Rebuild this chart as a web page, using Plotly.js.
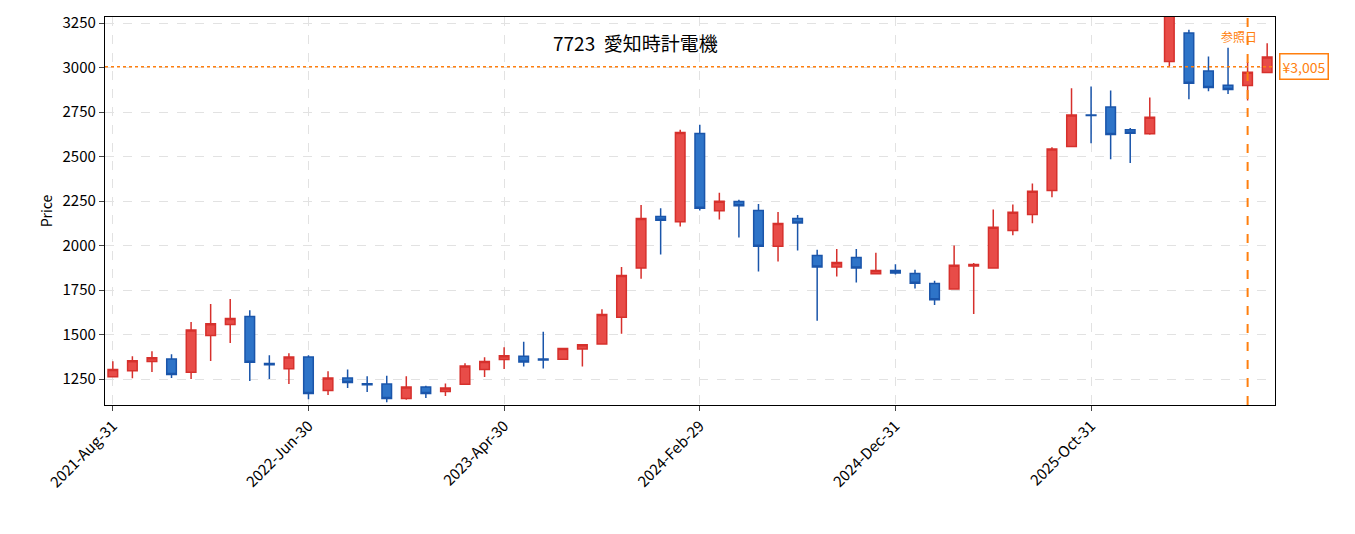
<!DOCTYPE html>
<html>
<head>
<meta charset="utf-8">
<script src="https://cdn.plot.ly/plotly-3.0.1.min.js"></script>
<style>body{margin:0;background:#fff}#chart{width:1355px;height:534px}</style>
</head>
<body>
<div id="chart"></div>
<script>
'use strict';

// Monthly OHLC, index 0 = 2021-Aug
let opens  = [1263,1297,1348,1363,1288,1494,1556,1601,1337,1308,1374,1186,1256,1224,1222,1141,1205,1180,1220,1303,
              1359,1378,1362,1361,1419,1447,1597,1874,2163,2133,2629,2195,2247,2197,1996,2152,1944,1880,1933,1841,
              1859,1843,1787,1756,1885,1874,2084,2174,2309,2556,2733,2778,2650,2628,3034,3194,2980,2901,2899,2972];
let highs  = [1350,1378,1406,1389,1570,1671,1699,1637,1383,1395,1383,1293,1303,1265,1269,1265,1212,1225,1338,1372,
              1429,1459,1515,1425,1445,1642,1880,2228,2210,2650,2678,2296,2257,2234,2189,2172,1976,1981,1981,1959,
              1895,1864,1802,2000,1902,2202,2230,2348,2552,2883,2894,2871,2661,2832,3320,3212,3062,3111,3031,3137];
let lows   = [1260,1254,1289,1256,1250,1351,1453,1239,1250,1222,1137,1160,1199,1177,1120,1133,1143,1154,1218,1261,
              1306,1320,1309,1358,1320,1445,1505,1814,1949,2107,2197,2146,2045,1854,1910,1972,1578,1826,1792,1837,
              1837,1758,1666,1756,1615,1874,2058,2125,2271,2556,2575,2485,2463,2622,3008,2822,2867,2852,2815,2970];
let closes = [1303,1353,1370,1276,1526,1560,1590,1344,1330,1374,1169,1256,1231,1218,1141,1205,1169,1199,1323,1348,
              1381,1346,1357,1421,1443,1612,1831,2152,2142,2635,2210,2249,2223,1996,2124,2127,1880,1904,1874,1859,
              1846,1788,1696,1889,1893,2103,2187,2305,2543,2733,2730,2624,2631,2721,3310,2912,2888,2877,2974,3059];

let tickIdx = [0, 10, 20, 30, 40, 50];
let tickLabels = ['2021-Aug-31', '2022-Jun-30', '2023-Apr-30', '2024-Feb-29', '2024-Dec-31', '2025-Oct-31'];

let refIdx = 58;
let refPrice = 3005;

let xs = [];
for (let i = 0; i < opens.length; i++) {
    xs.push(i);
}

let trace = {
    type: 'candlestick',
    x: xs,
    open: opens,
    high: highs,
    low: lows,
    close: closes,
    increasing: {line: {color: '#d6302c', width: 1.5}, fillcolor: '#e84c48'},
    decreasing: {line: {color: '#1a55aa', width: 1.5}, fillcolor: '#2e74c8'},
    whiskerwidth: 0,
    showlegend: false,
    hoverinfo: 'none'
};

let orange = '#ff7f0e';

let layout = {
    width: 1355,
    height: 534,
    margin: {l: 105, r: 80, t: 17, b: 129},
    paper_bgcolor: '#fff',
    plot_bgcolor: '#fff',
    font: {family: 'Noto Sans CJK JP, DejaVu Sans, sans-serif', size: 15, color: '#000'},
    xaxis: {
        range: [-0.4, 59.4],
        tickvals: tickIdx,
        ticktext: tickLabels,
        tickangle: -45,
        ticks: 'outside',
        ticklen: 5,
        showgrid: true,
        gridcolor: '#e2e2e2',
        griddash: 'dash',
        showline: true,
        linecolor: '#000',
        linewidth: 1.2,
        mirror: true,
        zeroline: false,
        rangeslider: {visible: false},
        tickfont: {size: 15}
    },
    yaxis: {
        range: [1104, 3284],
        tickvals: [1250, 1500, 1750, 2000, 2250, 2500, 2750, 3000, 3250],
        ticks: 'outside',
        ticklen: 5,
        showgrid: true,
        gridcolor: '#e2e2e2',
        griddash: 'dash',
        showline: true,
        linecolor: '#000',
        linewidth: 1.2,
        mirror: true,
        zeroline: false,
        title: {text: 'Price', font: {size: 14}, standoff: 6},
        tickfont: {size: 15}
    },
    shapes: [
        {type: 'line', xref: 'paper', x0: 0, x1: 1, yref: 'y', y0: refPrice, y1: refPrice,
         line: {color: orange, width: 1.5, dash: 'dot'}},
        {type: 'line', xref: 'x', x0: refIdx, x1: refIdx, yref: 'paper', y0: 0, y1: 1,
         line: {color: orange, width: 2, dash: 'dash'}}
    ],
    annotations: [
        {text: '7723  愛知時計電機', xref: 'paper', yref: 'paper', x: 0.453, y: 0.933,
         xanchor: 'center', yanchor: 'middle', showarrow: false, font: {size: 19}},
        {text: '参照日', xref: 'x', yref: 'paper', x: refIdx + 0.6, y: 0.95,
         xanchor: 'right', yanchor: 'middle', showarrow: false, font: {size: 12, color: orange}},
        {text: '¥' + refPrice.toLocaleString('en-US'), xref: 'paper', yref: 'y', x: 1.003, y: refPrice,
         xanchor: 'left', yanchor: 'middle', showarrow: false, font: {size: 14, color: orange},
         bordercolor: orange, borderwidth: 1.5, borderpad: 2, bgcolor: '#fff'}
    ]
};

Plotly.newPlot('chart', [trace], layout, {displayModeBar: false, staticPlot: true});
</script>
</body>
</html>
